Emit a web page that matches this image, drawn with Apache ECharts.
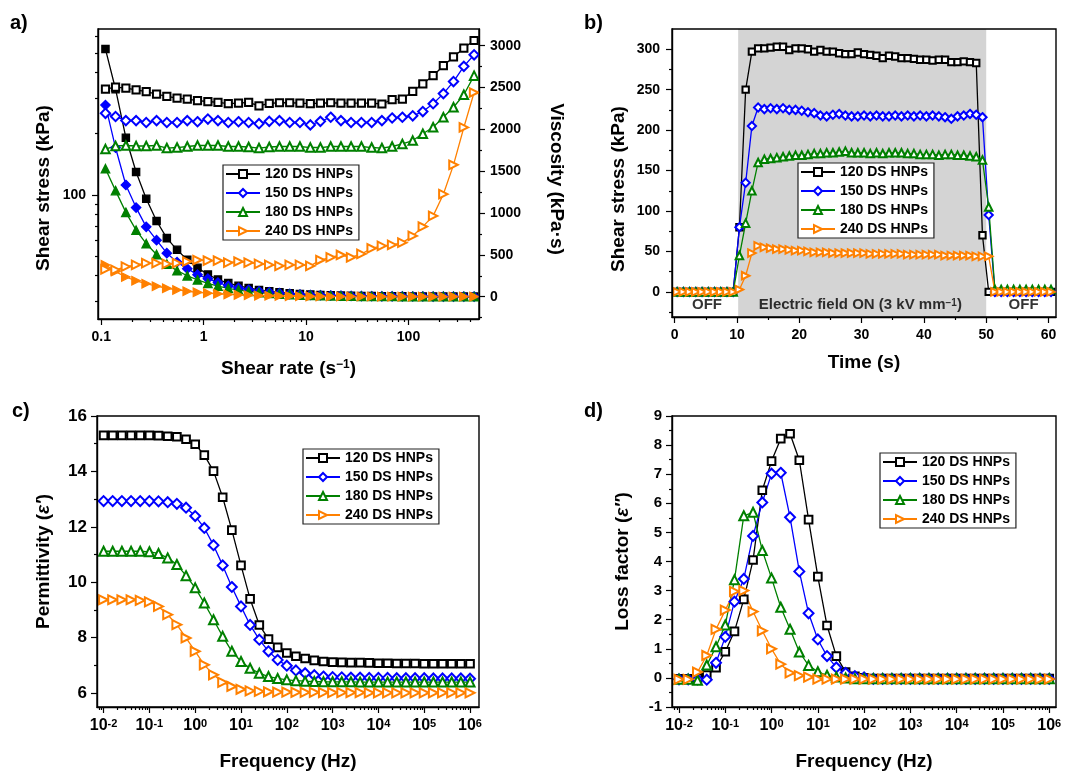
<!DOCTYPE html>
<html><head><meta charset="utf-8">
<script src="https://cdn.jsdelivr.net/npm/echarts@6/dist/echarts.min.js"></script>
<style>html,body{margin:0;padding:0;background:#fff}#c{width:1076px;height:773px}</style>
</head><body><div id="c"></div>
<script>
// ---------------- DATA ----------------
const names = ['120 DS HNPs', '150 DS HNPs', '180 DS HNPs', '240 DS HNPs'];

// (a) shear rate sweep: shear stress (open, left log axis) and viscosity (filled, right axis)
const shearRate = [0.11,0.138,0.174,0.219,0.275,0.347,0.437,0.55,0.692,0.871,1.1,1.38,1.74,2.19,2.75,3.47,4.37,5.5,6.92,8.71,11,13.8,17.4,21.9,27.5,34.7,43.7,55,69.2,87.1,110,138,174,219,275,347,437];
const stress120 = [331,339,335,329,322,313,305,299,296,291,288,285,281,283,285,274,282,284,284,283,281,283,284,283,283,283,283,280,294,296,323,352,386,432,477,528,575];
const stress150 = [252,243,232,232,227,232,227,227,232,229,236,232,227,229,227,224,230,232,227,227,221,230,241,232,227,227,227,232,239,241,245,257,281,315,361,429,489];
const stress180 = [168,174,175,174,174,175,170,171,173,175,175,175,173,173,172,170,172,173,173,173,171,171,173,173,173,173,171,170,173,178,185,200,215,241,270,311,386];
const stress240 = [43.0,42.7,44.3,45.2,46.1,46.1,45.7,46.1,47.0,47.8,47.5,47.5,46.4,47.0,46.4,45.7,45.2,44.7,45.2,45.2,44.7,47.8,49.3,50.6,49.3,51.2,54.6,56.1,56.7,58.2,62.8,69.8,78.8,100.8,140.5,214.6,319];
const visc120 = [2960,2480,1900,1490,1170,905,700,560,440,345,265,205,162,130,104,80,65,52,41,33,26,21,16,13,10,8,6.5,5,4,3.4,2.9,2.6,2.2,2.0,1.7,1.5,1.3];
const visc150 = [2290,1780,1335,1065,835,675,520,413,335,263,215,168,130,105,83,65,53,42,33,26,20,17,14,11,8.3,6.5,5.2,4.2,3.5,2.8,2.2,1.9,1.6,1.4,1.3,1.2,1.1];
const visc180 = [1530,1268,1008,795,633,504,389,311,250,201,159,127,99,79,63,49,39,31,25,20,15.5,12.4,9.9,7.9,6.3,5.0,3.9,3.1,2.5,2.0,1.7,1.4,1.2,1.1,1.0,0.9,0.9];
const visc240 = [380,300,235,190,155,125,100,80,65,52,42,34,27,21,17,13,10.3,8.1,6.5,5.2,4.1,3.5,2.8,2.3,1.8,1.5,1.2,1.0,0.8,0.7,0.6,0.5,0.45,0.46,0.5,0.6,0.7];

// (b) on/off response
const time = [0.4,1.4,2.4,3.4,4.4,5.4,6.4,7.4,8.4,9.4,10.4,11.4,12.4,13.4,14.4,15.4,16.4,17.4,18.4,19.4,20.4,21.4,22.4,23.4,24.4,25.4,26.4,27.4,28.4,29.4,30.4,31.4,32.4,33.4,34.4,35.4,36.4,37.4,38.4,39.4,40.4,41.4,42.4,43.4,44.4,45.4,46.4,47.4,48.4,49.4,50.4,51.4,52.4,53.4,54.4,55.4,56.4,57.4,58.4,59.4,60.4];
const onoff120 = [0,0,0,0,0,0,0,0,0,0,80,250,297,301,301,302,303,303,299,301,301,300,297,299,297,297,295,294,294,296,294,293,292,289,292,291,289,289,288,287,287,286,287,287,284,284,285,284,283,70,0,0,0,0,0,0,0,0,0,0,0];
const onoff150 = [0,0,0,0,0,0,0,0,0,0,80,135,205,228,226,227,226,227,225,225,224,222,221,218,217,219,220,218,217,217,218,217,218,217,217,218,217,218,217,218,217,218,217,216,214,217,218,220,219,216,95,0,0,0,0,0,0,0,0,0,0];
const onoff180 = [0,0,0,0,0,0,0,0,0,0,45,85,125,160,164,165,166,167,168,169,169,170,171,171,172,172,173,174,172,172,172,171,172,171,172,172,172,171,171,170,170,170,169,170,170,169,169,168,167,163,105,3,3,3,3,3,3,3,3,3,3];
const onoff240 = [0,0,0,0,0,0,0,0,0,0,3,20,48,57,55,54,53,53,52,51,51,50,49,49,49,48,48,48,48,48,48,47,47,47,47,47,47,46,46,46,46,46,46,45,45,45,45,45,44,44,44,0,0,0,0,0,0,0,0,0,0];
const fieldOn = [10.2, 50];
const noteText = ['OFF', 'Electric field ON (3 kV mm{s|\u22121})', 'OFF'];
const noteTime = [5.2, 29.8, 56];

// (c) permittivity and (d) loss factor vs frequency
const freq = [0.01,0.0158,0.0251,0.0398,0.0631,0.1,0.158,0.251,0.398,0.631,1,1.58,2.51,3.98,6.31,10,15.8,25.1,39.8,63.1,100,158,251,398,631,1000,1585,2512,3981,6310,10000,15849,25119,39811,63096,100000,158489,251189,398107,630957,1000000];
const perm120 = [15.30,15.30,15.30,15.30,15.30,15.30,15.29,15.27,15.25,15.16,14.98,14.59,14.01,13.07,11.88,10.61,9.40,8.46,7.95,7.65,7.45,7.33,7.25,7.18,7.14,7.12,7.11,7.10,7.10,7.09,7.08,7.08,7.07,7.07,7.07,7.06,7.06,7.06,7.06,7.06,7.06];
const perm150 = [12.93,12.93,12.93,12.93,12.93,12.93,12.92,12.89,12.83,12.69,12.39,11.96,11.34,10.61,9.83,9.13,8.46,7.93,7.51,7.20,6.99,6.82,6.72,6.65,6.60,6.58,6.57,6.56,6.56,6.55,6.55,6.55,6.54,6.54,6.54,6.54,6.53,6.53,6.53,6.53,6.52];
const perm180 = [11.12,11.12,11.12,11.12,11.12,11.10,11.04,10.88,10.64,10.24,9.80,9.25,8.65,8.05,7.51,7.14,6.90,6.72,6.60,6.53,6.48,6.45,6.43,6.42,6.41,6.41,6.41,6.41,6.40,6.40,6.40,6.40,6.40,6.40,6.40,6.40,6.40,6.40,6.40,6.40,6.40];
const perm240 = [9.37,9.37,9.37,9.37,9.35,9.29,9.13,8.83,8.47,7.99,7.51,7.02,6.66,6.39,6.24,6.14,6.08,6.06,6.05,6.04,6.04,6.03,6.03,6.03,6.02,6.02,6.02,6.02,6.02,6.01,6.01,6.01,6.01,6.01,6.01,6.01,6.01,6.01,6.01,6.01,6.01];
const loss120 = [-0.03,-0.03,0.0,0.1,0.35,0.9,1.6,2.7,4.05,6.45,7.45,8.22,8.39,7.48,5.44,3.48,1.8,0.75,0.2,0.05,0.0,-0.02,-0.02,-0.02,-0.02,-0.02,-0.02,-0.02,-0.02,-0.02,-0.02,-0.02,-0.02,-0.02,-0.02,-0.02,-0.02,-0.02,-0.02,-0.02,-0.02];
const loss150 = [-0.05,-0.05,-0.05,-0.06,0.52,1.41,2.62,3.4,4.88,6.03,7.02,7.05,5.52,3.66,2.22,1.32,0.75,0.36,0.17,0.06,0.02,-0.03,-0.03,-0.03,-0.03,-0.03,-0.03,-0.03,-0.03,-0.03,-0.03,-0.03,-0.03,-0.03,-0.03,-0.03,-0.03,-0.03,-0.03,-0.03,-0.03];
const loss180 = [-0.05,-0.05,-0.08,0.44,1.07,1.82,3.37,5.57,5.69,4.38,3.43,2.43,1.67,0.89,0.43,0.21,0.09,0.03,0.0,-0.03,-0.03,-0.03,-0.03,-0.03,-0.03,-0.03,-0.03,-0.03,-0.03,-0.03,-0.03,-0.03,-0.03,-0.03,-0.03,-0.03,-0.03,-0.03,-0.03,-0.03,-0.03];
const loss240 = [-0.05,-0.05,0.2,0.77,1.67,2.33,2.97,3.0,2.28,1.62,1.0,0.47,0.17,0.08,0.03,-0.04,-0.04,-0.04,-0.04,-0.04,-0.04,-0.04,-0.04,-0.04,-0.04,-0.04,-0.04,-0.04,-0.04,-0.04,-0.04,-0.04,-0.04,-0.04,-0.04,-0.04,-0.04,-0.04,-0.04,-0.04,-0.04];

// tick label values
const viscTicks = [0, 500, 1000, 1500, 2000, 2500, 3000];
const timeTicks = [0, 10, 20, 30, 40, 50, 60];
const onoffTicks = [0, 50, 100, 150, 200, 250, 300];
const permTicks = [6, 8, 10, 12, 14, 16];
const lossTicks = [-1, 0, 1, 2, 3, 4, 5, 6, 7, 8, 9];

// ---------------- STYLE ----------------
const colors = ['#000000', '#0000ff', '#008000', '#ff8000'];
const emptySym = ['emptyRect', 'emptyDiamond', 'emptyTriangle', 'emptyTriangle'];
const fullSym = ['rect', 'diamond', 'triangle', 'triangle'];
const symRot = [0, 0, 0, -90];
const symScale = [0.85, 1.1, 1, 1];
const FONT = 'Arial, "Liberation Sans", Helvetica, sans-serif';
const TXT = { color: '#000', fontFamily: FONT, fontWeight: 'bold' };
const LINE = { show: true, onZero: false, lineStyle: { color: '#000', width: 1.4 } };
const L10 = Math.log10;
const isPow10 = v => Math.abs(L10(v) - Math.round(L10(v))) < 1e-6;

function minorLog(lo, hi, list) {
  const out = [];
  for (let d = Math.floor(L10(lo)); d <= Math.ceil(L10(hi)); d++) {
    (list || [2,3,4,5,6,7,8,9]).forEach(m => { const v = m * Math.pow(10, d); if (v > lo && v < hi) out.push(L10(v)); });
  }
  return out;
}
function majorLog(lo, hi) {
  const out = [];
  for (let d = Math.ceil(L10(lo)); d <= Math.floor(L10(hi)); d++) out.push(d);
  return out;
}
function deco(gi, pos, min, max, vals, len) {
  return { type: 'value', gridIndex: gi, position: pos, min: min, max: max, offset: 0, silent: true, z: 3,
    axisLine: { show: false, onZero: false }, axisLabel: { show: false }, splitLine: { show: false },
    axisTick: { show: true, inside: false, length: len, customValues: vals, lineStyle: { color: '#000', width: 1.2 } },
    axisPointer: { show: false } };
}
function supLabel(size, sup) {
  return Object.assign({}, TXT, { fontSize: size, rich: { s: Object.assign({}, TXT, { fontSize: sup, verticalAlign: 'top' }) } });
}
function nameStyle(size, pad) {
  return Object.assign({}, TXT, { fontSize: size, padding: pad || 0, rich: { s: Object.assign({}, TXT, { fontSize: 12, verticalAlign: 'top' }), i: Object.assign({}, TXT, { fontSize: size, fontStyle: 'italic' }) } });
}

// ranges
const aX = [0.093, 488], aYL = [24.5, 655], aYR = [-267, 3200];
const bX = [-0.42, 61.2], bY = [-31, 325];
const cX = [0.00718, 1.57e6], cY = [5.5, 16];
const dX = [0.00706, 1.40e6], dY = [-1, 9];

const logFmtPlain = v => isPow10(v) ? String(+Number(v).toPrecision(3)) : '';
const logFmtSup = v => isPow10(v) ? '10{s|' + Math.round(L10(v)) + '}' : '';
const plain = v => String(v);

const xAxis = [
  { type: 'log', gridIndex: 0, min: aX[0], max: aX[1], z: 3, axisLine: LINE, axisTick: { show: false }, splitLine: { show: false }, minorTick: { show: false },
    axisLabel: Object.assign({}, TXT, { fontSize: 14, margin: 11, formatter: logFmtPlain }),
    name: 'Shear rate (s{s|\u22121})', nameLocation: 'middle', nameGap: 40, nameTextStyle: nameStyle(19) },
  { type: 'value', gridIndex: 1, min: bX[0], max: bX[1], z: 3, axisLine: LINE, splitLine: { show: false },
    axisTick: { show: true, length: 6, customValues: timeTicks, lineStyle: { color: '#000', width: 1.2 } },
    axisLabel: Object.assign({}, TXT, { fontSize: 14, margin: 11, customValues: timeTicks, formatter: plain }),
    name: 'Time (s)', nameLocation: 'middle', nameGap: 36, nameTextStyle: nameStyle(19) },
  { type: 'log', gridIndex: 2, min: cX[0], max: cX[1], z: 3, axisLine: LINE, axisTick: { show: false }, splitLine: { show: false }, minorTick: { show: false },
    axisLabel: Object.assign(supLabel(16, 11), { margin: 11, formatter: logFmtSup }),
    name: 'Frequency (Hz)', nameLocation: 'middle', nameGap: 45, nameTextStyle: nameStyle(19) },
  { type: 'log', gridIndex: 3, min: dX[0], max: dX[1], z: 3, axisLine: LINE, axisTick: { show: false }, splitLine: { show: false }, minorTick: { show: false },
    axisLabel: Object.assign(supLabel(16, 11), { margin: 11, formatter: logFmtSup }),
    name: 'Frequency (Hz)', nameLocation: 'middle', nameGap: 45, nameTextStyle: nameStyle(19) },
  deco(0, 'bottom', L10(aX[0]), L10(aX[1]), majorLog(aX[0], aX[1]), 6),
  deco(0, 'bottom', L10(aX[0]), L10(aX[1]), minorLog(aX[0], aX[1]), 3),
  deco(1, 'bottom', bX[0], bX[1], [5, 15, 25, 35, 45, 55], 3),
  deco(2, 'bottom', L10(cX[0]), L10(cX[1]), majorLog(cX[0], cX[1]), 6),
  deco(2, 'bottom', L10(cX[0]), L10(cX[1]), minorLog(cX[0], cX[1]), 3),
  deco(3, 'bottom', L10(dX[0]), L10(dX[1]), majorLog(dX[0], dX[1]), 6),
  deco(3, 'bottom', L10(dX[0]), L10(dX[1]), minorLog(dX[0], dX[1]), 3)
];

const yAxis = [
  { type: 'log', gridIndex: 0, position: 'left', min: aYL[0], max: aYL[1], z: 3, axisLine: LINE, axisTick: { show: false }, splitLine: { show: false }, minorTick: { show: false },
    axisLabel: Object.assign({}, TXT, { fontSize: 14, margin: 12, formatter: v => Math.abs(v - 100) < 1e-6 ? '100' : '' }),
    name: 'Shear stress (kPa)', nameLocation: 'middle', nameGap: 45, nameTextStyle: nameStyle(19, [0, 28, 0, 0]) },
  { type: 'value', gridIndex: 0, position: 'right', min: aYR[0], max: aYR[1], z: 3, axisLine: LINE, splitLine: { show: false },
    axisTick: { show: true, length: 6, customValues: viscTicks, lineStyle: { color: '#000', width: 1.2 } },
    axisLabel: Object.assign({}, TXT, { fontSize: 14, margin: 11, customValues: viscTicks, formatter: plain }),
    name: 'Viscosity (kPa\u00b7s)', nameLocation: 'middle', nameRotate: -90, nameGap: 68, nameTextStyle: nameStyle(19, [0, 0, 0, 10]) },
  { type: 'value', gridIndex: 1, position: 'left', min: bY[0], max: bY[1], z: 3, axisLine: LINE, splitLine: { show: false },
    axisTick: { show: true, length: 6, customValues: onoffTicks, lineStyle: { color: '#000', width: 1.2 } },
    axisLabel: Object.assign({}, TXT, { fontSize: 14, margin: 12, customValues: onoffTicks, formatter: plain }),
    name: 'Shear stress (kPa)', nameLocation: 'middle', nameGap: 44, nameTextStyle: nameStyle(19, [0, 32, 0, 0]) },
  { type: 'value', gridIndex: 2, position: 'left', min: cY[0], max: cY[1], z: 3, axisLine: LINE, splitLine: { show: false },
    axisTick: { show: true, length: 6, customValues: permTicks, lineStyle: { color: '#000', width: 1.2 } },
    axisLabel: Object.assign({}, TXT, { fontSize: 17, margin: 10, customValues: permTicks, formatter: plain }),
    name: 'Permittivity ({i|\u03b5\u2032})', nameLocation: 'middle', nameGap: 44, nameTextStyle: nameStyle(19) },
  { type: 'value', gridIndex: 3, position: 'left', min: dY[0], max: dY[1], z: 3, axisLine: LINE, splitLine: { show: false },
    axisTick: { show: true, length: 6, customValues: lossTicks, lineStyle: { color: '#000', width: 1.2 } },
    axisLabel: Object.assign({}, TXT, { fontSize: 15, margin: 10, customValues: lossTicks, formatter: plain }),
    name: 'Loss factor ({i|\u03b5\u2033})', nameLocation: 'middle', nameGap: 40, nameTextStyle: nameStyle(19) },
  deco(0, 'left', L10(aYL[0]), L10(aYL[1]), majorLog(aYL[0], aYL[1]), 6),
  deco(0, 'left', L10(aYL[0]), L10(aYL[1]), minorLog(aYL[0], aYL[1]), 3),
  deco(0, 'right', aYR[0], aYR[1], [-250, 250, 750, 1250, 1750, 2250, 2750], 3),
  deco(1, 'left', bY[0], bY[1], [-25, 25, 75, 125, 175, 225, 275], 3),
  deco(2, 'left', cY[0], cY[1], [7, 9, 11, 13, 15], 3),
  deco(3, 'left', dY[0], dY[1], [-0.5, 0.5, 1.5, 2.5, 3.5, 4.5, 5.5, 6.5, 7.5, 8.5], 3)
];

function lineSeries(name, i, xs, ys, xi, yi, size, filled) {
  return { type: 'line', name: name, xAxisIndex: xi, yAxisIndex: yi,
    data: xs.map((x, k) => [x, ys[k]]),
    symbol: filled ? fullSym[i] : emptySym[i], symbolSize: size * symScale[i], symbolRotate: symRot[i], showAllSymbol: true,
    lineStyle: { color: colors[i], width: 1.3 }, itemStyle: { color: colors[i], borderColor: colors[i], borderWidth: 1.3 },
    emphasis: { disabled: true }, z: 2, animation: false };
}

const stressA = [stress120, stress150, stress180, stress240];
const viscA = [visc120, visc150, visc180, visc240];
const onoffB = [onoff120, onoff150, onoff180, onoff240];
const permC = [perm120, perm150, perm180, perm240];
const lossD = [loss120, loss150, loss180, loss240];

const series = [];
names.forEach((n, i) => series.push(lineSeries(n + ' viscosity', i, shearRate, viscA[i], 0, 1, 8.5, true)));
names.forEach((n, i) => series.push(lineSeries(n, i, shearRate, stressA[i], 0, 0, 8.5, false)));
names.forEach((n, i) => series.push(lineSeries(n, i, time, onoffB[i], 1, 2, 7.5, false)));
names.forEach((n, i) => series.push(lineSeries(n, i, freq, permC[i], 2, 3, 9, false)));
names.forEach((n, i) => series.push(lineSeries(n, i, freq, lossD[i], 3, 4, 9, false)));
series.push({
  type: 'scatter', name: 'notes', xAxisIndex: 1, yAxisIndex: 2, symbolSize: 0, z: 3, silent: true,
  data: noteTime.map(t => [t, -16.5]),
  label: { show: true, position: 'inside', formatter: p => noteText[p.dataIndex],
    color: '#000', fontFamily: FONT, fontWeight: 'bold', fontSize: 15,
    rich: { s: { color: '#000', fontFamily: FONT, fontWeight: 'bold', fontSize: 10, verticalAlign: 'top' } } },
  markArea: { silent: true, z: 1, itemStyle: { color: '#d4d4d4' }, data: [[{ xAxis: fieldOn[0] }, { xAxis: fieldOn[1] }]] }
});

function legend(left, top) {
  return { data: names, orient: 'vertical', left: left, top: top, itemWidth: 34, itemHeight: 10, itemGap: 5,
    padding: [2, 6, 2, 2], borderColor: '#222', borderWidth: 1.2, backgroundColor: '#fff', selectedMode: false,
    textStyle: Object.assign({}, TXT, { fontSize: 14, lineHeight: 14 }) };
}

const gridBase = { show: true, borderColor: '#000', borderWidth: 1.4, backgroundColor: 'transparent', z: 2, containLabel: false, outerBoundsMode: 'none' };
const letterFont = 'bold 20px ' + FONT;

const option = {
  animation: false,
  backgroundColor: '#fff',
  grid: [
    Object.assign({ left: 98, top: 29, width: 381, height: 290 }, gridBase),
    Object.assign({ left: 672, top: 29, width: 384, height: 288 }, gridBase),
    Object.assign({ left: 97, top: 416, width: 382, height: 291 }, gridBase),
    Object.assign({ left: 672, top: 416, width: 384, height: 291 }, gridBase)
  ],
  xAxis: xAxis,
  yAxis: yAxis,
  legend: [legend(223, 165), legend(798, 163), legend(303, 449), legend(880, 453)],
  graphic: [
    { type: 'text', left: 10, top: 13, style: { text: 'a)', fill: '#000', font: letterFont } },
    { type: 'text', left: 584, top: 13, style: { text: 'b)', fill: '#000', font: letterFont } },
    { type: 'text', left: 12, top: 401, style: { text: 'c)', fill: '#000', font: letterFont } },
    { type: 'text', left: 584, top: 401, style: { text: 'd)', fill: '#000', font: letterFont } }
  ],
  series: series
};

const chart = echarts.init(document.getElementById('c'), null, { renderer: 'canvas' });
chart.setOption(option);
</script>
</body></html>
